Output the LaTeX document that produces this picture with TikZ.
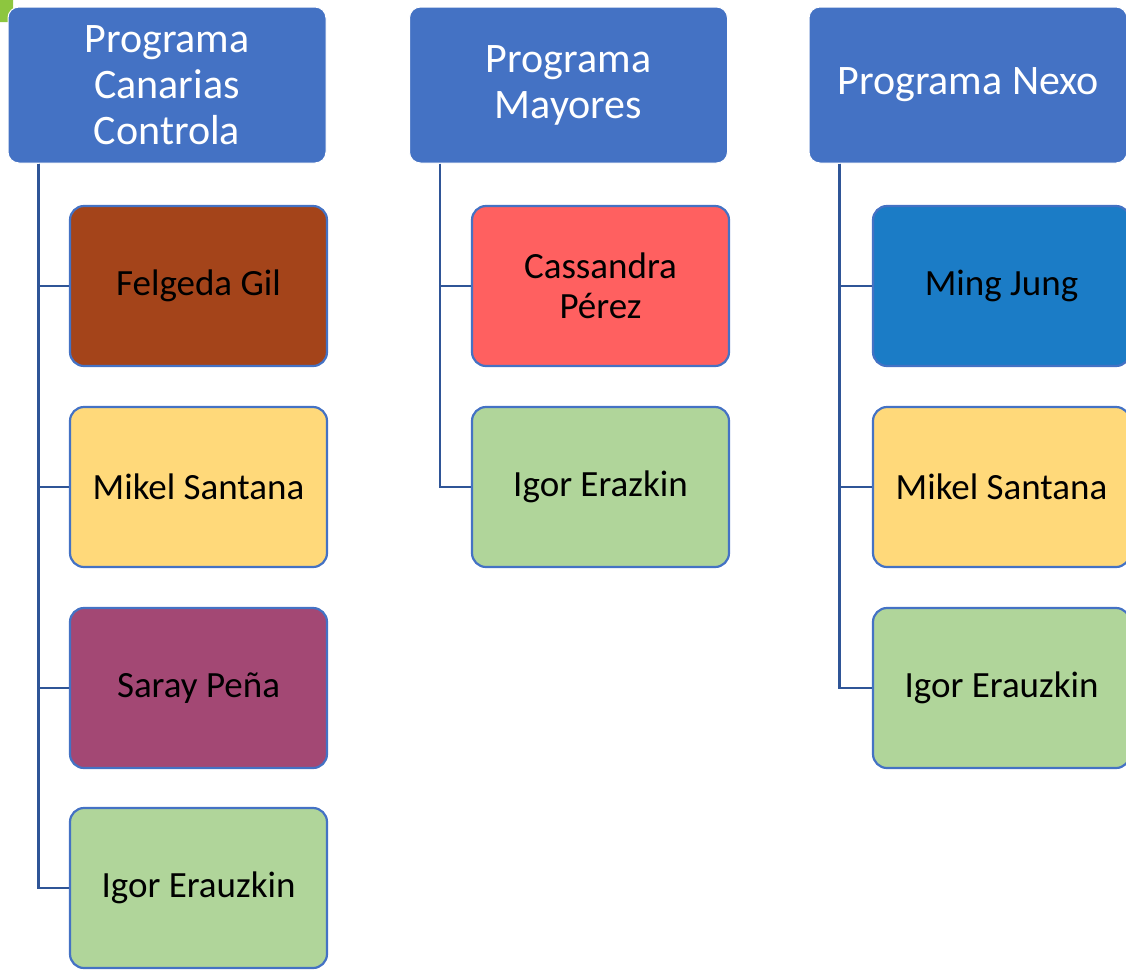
\documentclass[tikz,border=0pt]{standalone}
\usepackage{fontspec}
\setmainfont{Carlito}
\usepackage{xcolor}
\usepackage{tikz}
\definecolor{hdr}{HTML}{4472C4}
\definecolor{edge}{HTML}{4472C4}
\definecolor{conn}{HTML}{2F5597}
\definecolor{brown}{HTML}{A4441A}
\definecolor{sand}{HTML}{FFD97A}
\definecolor{plum}{HTML}{A34874}
\definecolor{sage}{HTML}{B0D59A}
\definecolor{coral}{HTML}{FF6060}
\definecolor{ocean}{HTML}{1B7CC6}
\definecolor{lime}{HTML}{8DC63F}
\tikzset{
  head/.style={rectangle, rounded corners=11pt, fill=hdr, draw=white, line width=1pt,
    minimum width=318pt, minimum height=156pt, text=white, align=center,
    font=\fontsize{42}{46}\selectfont},
  member/.style={rectangle, rounded corners=14pt, draw=edge, line width=2.2pt,
    minimum width=257pt, minimum height=160pt, text=black, align=center,
    font=\fontsize{37}{40}\selectfont},
  link/.style={draw=conn, line width=2.2pt},
}
\begin{document}
\begin{tikzpicture}[x=1pt,y=-1pt]
  \useasboundingbox (0,0) rectangle (1126,970);
  \fill[lime, rounded corners=3pt] (-5,-5) rectangle (13,22);

  % program heads
  \node[head] (h1) at (167,85) {Programa\\Canarias\\Controla};
  \node[head] (h2) at (568.5,85) {Programa\\Mayores};
  \node[head] (h3) at (968,85) {Programa Nexo};

  % Canarias Controla
  \node[member, fill=brown] (a1) at (198.5,286) {Felgeda Gil};
  \node[member, fill=sand]  (a2) at (198.5,487) {Mikel Santana};
  \node[member, fill=plum]  (a3) at (198.5,688) {Saray Peña};
  \node[member, fill=sage]  (a4) at (198.5,888) {Igor Erauzkin};

  % Mayores
  \node[member, fill=coral] (b1) at (600.5,286) {Cassandra\\Pérez};
  \node[member, fill=sage]  (b2) at (600.5,487) {Igor Erazkin};

  % Nexo
  \node[member, fill=ocean] (c1) at (1001.5,286) {Ming Jung};
  \node[member, fill=sand]  (c2) at (1001.5,487) {Mikel Santana};
  \node[member, fill=sage]  (c3) at (1001.5,688) {Igor Erauzkin};

  \foreach \k in {a1,a2,a3,a4}
    \draw[link] ([xshift=31pt]h1.south west) |- (\k.west);
  \foreach \k in {b1,b2}
    \draw[link] ([xshift=31pt]h2.south west) |- (\k.west);
  \foreach \k in {c1,c2,c3}
    \draw[link] ([xshift=31pt]h3.south west) |- (\k.west);
\end{tikzpicture}
\end{document}
